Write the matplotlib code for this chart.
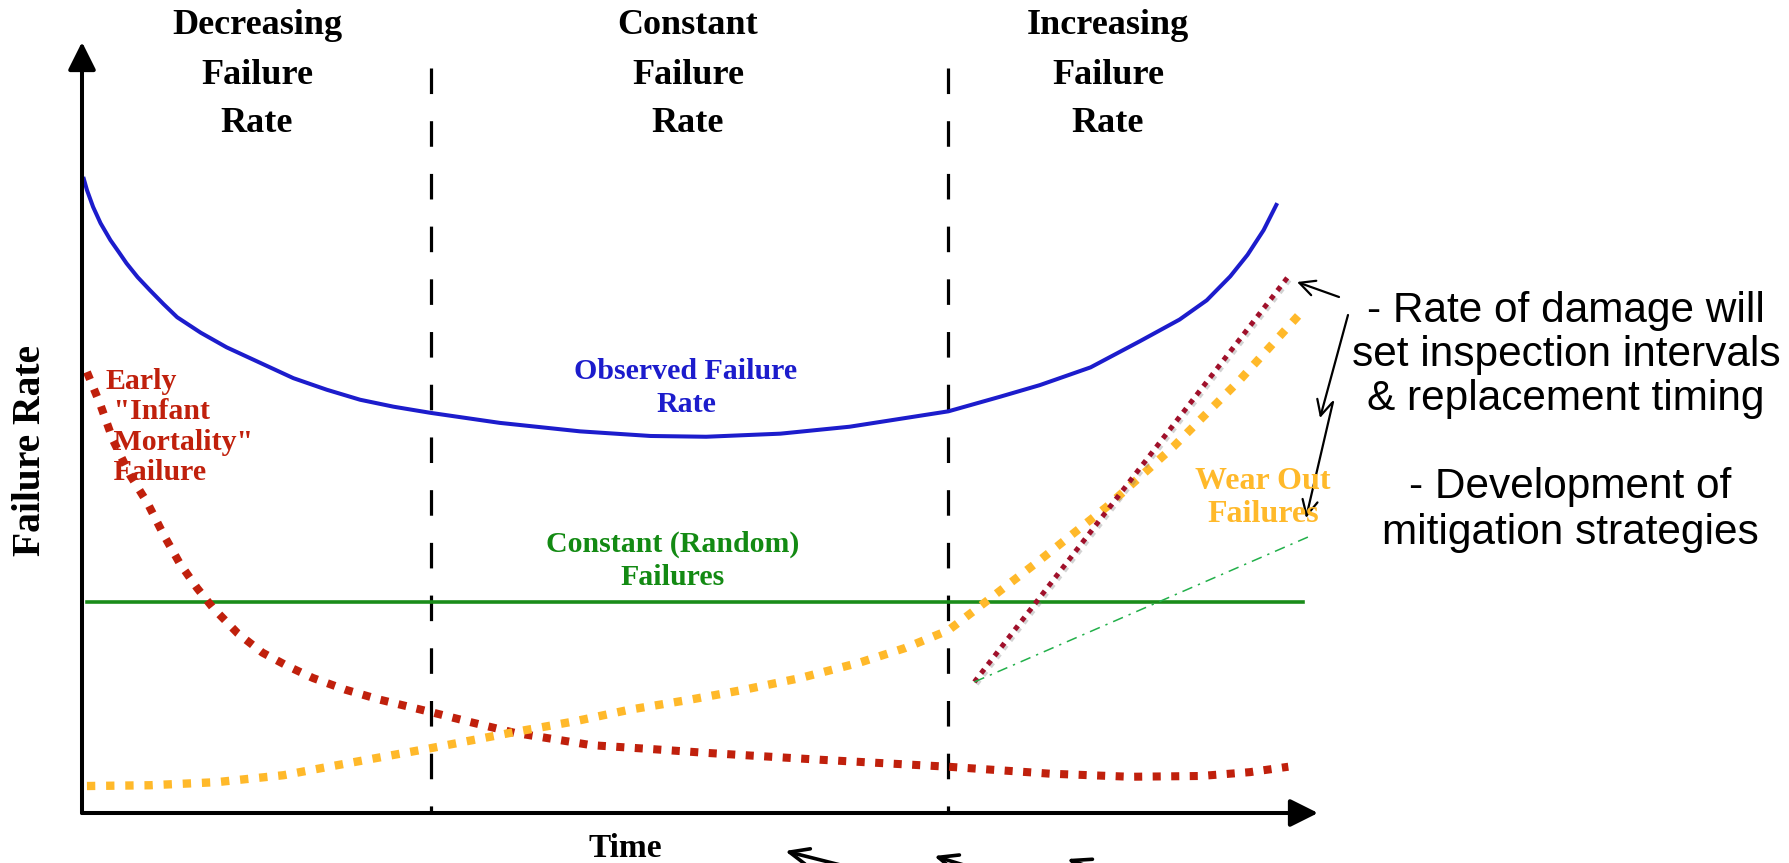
import matplotlib
matplotlib.use('Agg')
import matplotlib.pyplot as plt
import matplotlib.patheffects as pe

# values: time 0-100, failure rate 0-100
obs_t = [0.1, 0.4, 0.9, 1.5, 2.3, 3.0, 3.6, 4.5, 5.5, 6.6, 7.7, 9.6, 11.7, 14.4, 17.1, 19.8,
         22.5, 25.2, 28.2, 33.8, 40.3, 46.0, 50.5, 56.5, 62.1, 70.1, 74.3, 77.5, 81.6,
         85.6, 88.8, 91.0, 92.9, 94.3, 95.6, 96.7]
obs_r = [82.5, 80.8, 78.6, 76.5, 74.3, 72.7, 71.3, 69.5, 67.8, 66.0, 64.3, 62.3, 60.4, 58.4,
         56.4, 54.9, 53.6, 52.7, 51.9, 50.6, 49.5, 48.9, 48.8, 49.2, 50.1, 52.1, 54.0,
         55.5, 57.8, 61.2, 64.0, 66.5, 69.6, 72.4, 75.6, 79.1]

early_t = [0.4, 1.5, 2.5, 3.9, 5.3, 6.6, 7.9, 9.3, 10.6, 12.6, 14.6, 16.7, 18.7, 21.3,
           24.1, 28.2, 31.4, 35.0, 41.2, 46.0, 50.5, 59.8, 70.1, 78.3, 84.8, 90.5, 94.5, 97.6]
early_r = [57.2, 52.9, 48.4, 43.8, 40.2, 36.1, 32.4, 29.2, 26.6, 23.3, 20.8, 19.0, 17.5, 16.0,
           14.7, 13.1, 11.8, 10.4, 8.8, 8.3, 7.8, 6.9, 6.0, 5.1, 4.7, 4.8, 5.3, 6.0]

wear_t = [0.4, 5.5, 10.9, 16.3, 20.3, 24.4, 28.2, 35.0, 39.9, 44.3, 49.2, 53.6, 58.1,
          62.9, 66.6, 70.1, 72.8, 77.5, 82.9, 88.3, 93.7, 98.8]
wear_r = [3.5, 3.6, 4.0, 4.9, 6.1, 7.3, 8.4, 10.5, 11.9, 13.4, 14.7, 16.0, 17.5,
          19.5, 21.4, 23.7, 27.0, 32.8, 39.7, 47.5, 56.2, 65.2]

const_t = [0.4, 98.8]
const_r = [27.4, 27.4]

tangent_t = [72.2, 97.7]
tangent_r = [17.0, 69.8]
base_t = [72.2, 99.2]
base_r = [17.0, 35.8]

phase_edges = [28.2, 70.1]
phase_top = 96.6
phase_names = ['Decreasing\nFailure\nRate', 'Constant\nFailure\nRate', 'Increasing\nFailure\nRate']

W, H = 1790, 863
serif = 'Liberation Serif'
sans = 'Liberation Sans'


def fp(x, y):
    # figure pixel -> figure fraction
    return (x / W, 1 - y / H)


fig = plt.figure(figsize=(W / 100, H / 100), dpi=100)
ax = fig.add_axes([82 / W, 1 - 813 / H, (1318 - 82) / W, (813 - 42) / H])
ax.set_xlim(0, 100)
ax.set_ylim(0, 100)
ax.axis('off')

# axes with arrows
axis_arrow = dict(arrowstyle='-|>,head_length=1.7,head_width=0.85', color='black',
                  lw=2.9, shrinkA=0, shrinkB=0, mutation_scale=10)
ax.annotate('', xy=(100, 0), xytext=(0, 0), arrowprops=axis_arrow, annotation_clip=False)
ax.annotate('', xy=(0, 100), xytext=(0, 0), arrowprops=axis_arrow, annotation_clip=False)

for e in phase_edges:
    ax.plot([e, e], [phase_top, 0], color='black', lw=2.3, linestyle=(0, (8, 8.5)),
            dash_capstyle='butt')

ax.plot(obs_t, obs_r, color='#1c1ccc', lw=2.9, solid_capstyle='butt', solid_joinstyle='round')
ax.plot(const_t, const_r, color='#1a8c1a', lw=2.6)
ax.plot(early_t, early_r, color='#c0200c', lw=5.8, linestyle=(0, (1, 1.3)),
        dash_capstyle='butt')
ax.plot(wear_t, wear_r, color='#ffb92a', lw=6.0, linestyle=(0, (1, 1.3)),
        dash_capstyle='butt')
ax.plot(tangent_t, tangent_r, color='#a0102a', lw=3.6, linestyle=(0, (1, 1.2)),
        dash_capstyle='butt',
        path_effects=[pe.SimpleLineShadow(offset=(1.5, -1.5), shadow_color='gray', alpha=0.35),
                      pe.Normal()])
ax.plot(base_t, base_r, color='#22b04a', lw=1.1, linestyle=(0, (7, 4, 1.5, 4)))

# phase headers
hdr_x = [257, 688, 1108]
for x, name in zip(hdr_x, phase_names):
    fig.text(*fp(x, 75), name, ha='center', va='center', fontsize=26,
             fontweight='bold', family=serif, linespacing=1.64)

# curve labels
fig.text(*fp(686, 388), 'Observed Failure\nRate', ha='center', va='center', fontsize=21.5,
         fontweight='bold', family=serif, color='#1c1ccc', linespacing=1.3)
fig.text(*fp(673, 561), 'Constant (Random)\nFailures', ha='center', va='center', fontsize=21.5,
         fontweight='bold', family=serif, color='#138a13', linespacing=1.3)
fig.text(*fp(106, 427), 'Early\n "Infant\n Mortality"\n Failure', ha='left', va='center',
         fontsize=21.5, fontweight='bold', family=serif, color='#c0200c', linespacing=1.17)
fig.text(*fp(1263, 498), 'Wear Out\nFailures', ha='center', va='center', fontsize=23,
         fontweight='bold', family=serif, color='#ffb92a', linespacing=1.2)

# axis titles
fig.text(*fp(31, 451), 'Failure Rate', rotation=90, ha='center', va='center', fontsize=28.5,
         fontweight='bold', family=serif)
fig.text(*fp(625, 848), 'Time', ha='center', va='center', fontsize=24,
         fontweight='bold', family=serif)

# notes on the right
fig.text(*fp(1566, 355), '- Rate of damage will\nset inspection intervals\n& replacement timing',
         ha='center', va='center', fontsize=30.5, family=sans, linespacing=1.14)
fig.text(*fp(1570, 510), '- Development of\nmitigation strategies',
         ha='center', va='center', fontsize=30.5, family=sans, linespacing=1.22)

thin = dict(arrowstyle='->,head_length=1.1,head_width=0.55', color='black', lw=1.6,
            shrinkA=0, shrinkB=0, mutation_scale=10)
for tail, head in [((1339, 297), (1297, 282)),
                   ((1348, 315), (1320, 418)),
                   ((1333, 402), (1306, 518))]:
    fig.add_artist(plt.Annotation('', xy=fp(*head), xycoords='figure fraction',
                                  xytext=fp(*tail), textcoords='figure fraction',
                                  arrowprops=thin))

# clipped arrows at the bottom edge
thick = dict(arrowstyle='->,head_length=1.4,head_width=0.6', color='black', lw=2.6,
             shrinkA=0, shrinkB=0, mutation_scale=10)
for tail, head in [((880, 875), (785, 851)),
                   ((1000, 876), (934, 856)),
                   ((1120, 878), (1067, 859))]:
    fig.add_artist(plt.Annotation('', xy=fp(*head), xycoords='figure fraction',
                                  xytext=fp(*tail), textcoords='figure fraction',
                                  arrowprops=thick))

fig.savefig('out.png', dpi=100)
